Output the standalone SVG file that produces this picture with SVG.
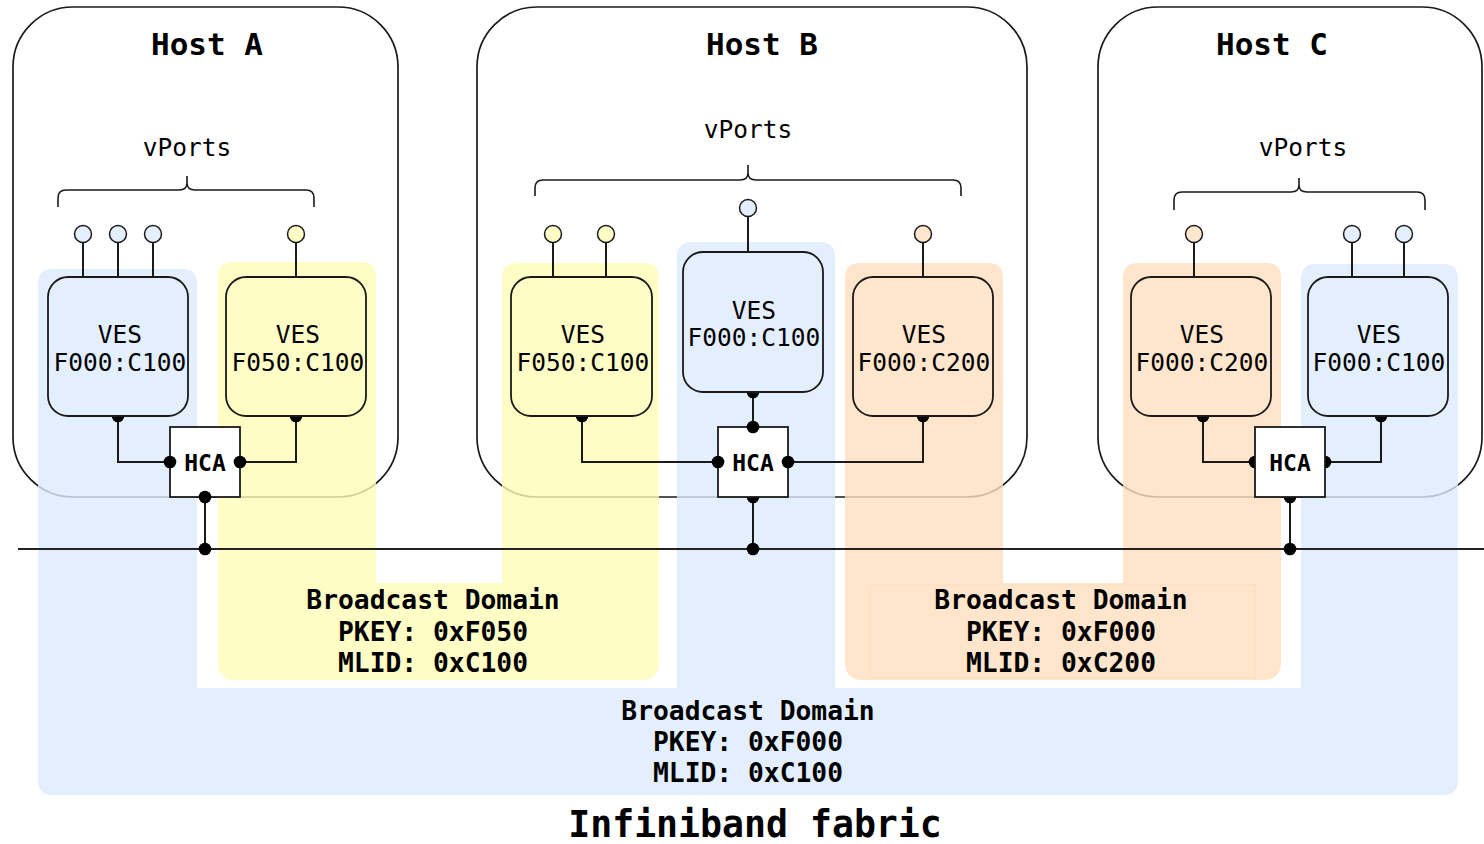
<svg xmlns="http://www.w3.org/2000/svg" width="1484" height="844" viewBox="0 0 1484 844">
<style>
text{font-family:"DejaVu Sans Mono","Liberation Mono",monospace;fill:#000;text-anchor:middle}
.title{font-size:31px;font-weight:bold}
.vp{font-size:24.5px}
.ves{font-size:24.5px}
.hcat{font-size:23px;font-weight:bold}
.dom{font-size:26.3px;font-weight:bold}
.fab{font-size:36.5px;font-weight:bold}
.host{fill:none;stroke:#1a1a1a;stroke-width:1.7}
.brace{fill:none;stroke:#1a1a1a;stroke-width:1.6}
.vesb{fill:#e3effd;stroke:#1a1a1a;stroke-width:1.8}
.vesy{fill:#fffdc6;stroke:#1a1a1a;stroke-width:1.8}
.veso{fill:#ffe6cc;stroke:#1a1a1a;stroke-width:1.8}
.hca{fill:#fff;stroke:#1a1a1a;stroke-width:1.8}
.wire{fill:none;stroke:#1a1a1a;stroke-width:2}
.dot{fill:#000}
.pb{fill:#e3effd;stroke:#1a1a1a;stroke-width:1.5}
.py{fill:#fffdc6;stroke:#1a1a1a;stroke-width:1.5}
.po{fill:#ffe6cc;stroke:#1a1a1a;stroke-width:1.5}
</style>

<!-- hosts (borders under the semi-transparent domains) -->
<g id="hostA-frame"><rect class="host" x="13" y="7" width="385" height="490" rx="60" ry="60"/></g>
<g id="hostB-frame"><rect class="host" x="477" y="7" width="550" height="490" rx="60" ry="60"/></g>
<g id="hostC-frame"><rect class="host" x="1098" y="7" width="384" height="490" rx="60" ry="60"/></g>

<!-- broadcast domains -->
<g id="domain-blue">
<path d="M38,284 Q38,269 53,269 H182 Q197,269 197,284 V688 H677 V257 Q677,242 692,242 H820 Q835,242 835,257 V688 H1301 V279 Q1301,264 1316,264 H1443 Q1458,264 1458,279 V780 Q1458,795 1443,795 H53 Q38,795 38,780 Z" fill="#dcebfd" fill-opacity="0.8"/>
<text class="dom" x="748" y="720">Broadcast Domain</text>
<text class="dom" x="748" y="751">PKEY: 0xF000</text>
<text class="dom" x="748" y="782">MLID: 0xC100</text>
</g>
<g id="domain-yellow">
<path d="M218,277 Q218,262 233,262 H361 Q376,262 376,277 V583 H502 V278 Q502,263 517,263 H644 Q659,263 659,278 V662 Q659,680 641,680 H236 Q218,680 218,662 Z" fill="#fffcb8" fill-opacity="0.8"/>
<text class="dom" x="433" y="609">Broadcast Domain</text>
<text class="dom" x="433" y="641">PKEY: 0xF050</text>
<text class="dom" x="433" y="672">MLID: 0xC100</text>
</g>
<g id="domain-orange">
<path d="M845,278 Q845,263 860,263 H988 Q1003,263 1003,278 V583 H1123 V278 Q1123,263 1138,263 H1266 Q1281,263 1281,278 V662 Q1281,680 1263,680 H863 Q845,680 845,662 Z" fill="#ffdfbf" fill-opacity="0.8"/>
<rect x="870" y="585" width="385" height="93" fill="none" stroke="#fbdcbd" stroke-width="1"/>
<text class="dom" x="1061" y="609">Broadcast Domain</text>
<text class="dom" x="1061" y="641">PKEY: 0xF000</text>
<text class="dom" x="1061" y="672">MLID: 0xC200</text>
</g>

<!-- host labels and vPorts braces -->
<g id="hostA-labels">
<text class="title" x="207" y="55">Host A</text>
<text class="vp" x="187" y="156">vPorts</text>
<path class="brace" d="M58,207 V198 Q58,190 66,190 H179 Q187,190 187,183 V176 M187,183 Q187,190 195,190 H306 Q314,190 314,198 V207"/>
</g>
<g id="hostB-labels">
<text class="title" x="762" y="55">Host B</text>
<text class="vp" x="748" y="138">vPorts</text>
<path class="brace" d="M535,196 V188 Q535,180 543,180 H740 Q748,180 748,173 V165 M748,173 Q748,180 756,180 H953 Q961,180 961,188 V196"/>
</g>
<g id="hostC-labels">
<text class="title" x="1272" y="55">Host C</text>
<text class="vp" x="1303" y="156">vPorts</text>
<path class="brace" d="M1174,210 V200 Q1174,192 1182,192 H1291 Q1299,192 1299,185 V178 M1299,185 Q1299,192 1307,192 H1417 Q1425,192 1425,200 V210"/>
</g>

<!-- connectors -->
<g id="connectors">
<line x1="18" y1="549" x2="1484" y2="549" stroke="#222" stroke-width="2"/>
<!-- Host A -->
<path class="wire" d="M83,234 V277 M118,234 V277 M153,234 V277 M296,234 V277"/>
<path class="wire" d="M118,416 V462 H170 M296,416 V462 H240 M205,497 V549"/>
<!-- Host B -->
<path class="wire" d="M553,234 V277 M606,234 V277 M748,208 V252 M923,234 V277"/>
<path class="wire" d="M582,416 V462 H718 M753,392 V427 M923,416 V462 H788 M753,497 V549"/>
<!-- Host C -->
<path class="wire" d="M1194,234 V277 M1352,234 V277 M1404,234 V277"/>
<path class="wire" d="M1203,416 V462 H1255 M1381,416 V462 H1325 M1290,497 V549"/>
<g class="dot">
<circle cx="205" cy="549" r="6.3"/><circle cx="753" cy="549" r="6.3"/><circle cx="1290" cy="549" r="6.3"/>
<circle cx="118" cy="416" r="6.3"/><circle cx="296" cy="416" r="6.3"/>
<circle cx="582" cy="416" r="6.3"/><circle cx="753" cy="392" r="6.3"/><circle cx="923" cy="416" r="6.3"/>
<circle cx="1203" cy="416" r="6.3"/><circle cx="1381" cy="416" r="6.3"/>
<circle cx="753" cy="497" r="6.3"/>
<circle cx="1255" cy="462" r="6.3"/><circle cx="1325" cy="462" r="6.3"/><circle cx="1290" cy="497" r="6.3"/>
</g>
</g>

<!-- vPorts -->
<g id="ports">
<circle class="pb" cx="83" cy="234" r="8.5"/><circle class="pb" cx="118" cy="234" r="8.5"/><circle class="pb" cx="153" cy="234" r="8.5"/>
<circle class="py" cx="296" cy="234" r="8.5"/>
<circle class="py" cx="553" cy="234" r="8.5"/><circle class="py" cx="606" cy="234" r="8.5"/>
<circle class="pb" cx="748" cy="208" r="8.5"/>
<circle class="po" cx="923" cy="234" r="8.5"/>
<circle class="po" cx="1194" cy="234" r="8.5"/>
<circle class="pb" cx="1352" cy="234" r="8.5"/><circle class="pb" cx="1404" cy="234" r="8.5"/>
</g>

<!-- VES nodes -->
<g id="vesA1"><rect class="vesb" x="48" y="277" width="140" height="139" rx="20"/>
<text class="ves" x="120" y="343">VES</text><text class="ves" x="120" y="371">F000:C100</text></g>
<g id="vesA2"><rect class="vesy" x="226" y="277" width="140" height="139" rx="20"/>
<text class="ves" x="298" y="343">VES</text><text class="ves" x="298" y="371">F050:C100</text></g>
<g id="vesB1"><rect class="vesy" x="511" y="277" width="141" height="139" rx="20"/>
<text class="ves" x="583" y="343">VES</text><text class="ves" x="583" y="371">F050:C100</text></g>
<g id="vesB2"><rect class="vesb" x="683" y="252" width="140" height="140" rx="20"/>
<text class="ves" x="754" y="319">VES</text><text class="ves" x="754" y="346">F000:C100</text></g>
<g id="vesB3"><rect class="veso" x="853" y="277" width="140" height="139" rx="20"/>
<text class="ves" x="924" y="343">VES</text><text class="ves" x="924" y="371">F000:C200</text></g>
<g id="vesC1"><rect class="veso" x="1131" y="277" width="140" height="139" rx="20"/>
<text class="ves" x="1202" y="343">VES</text><text class="ves" x="1202" y="371">F000:C200</text></g>
<g id="vesC2"><rect class="vesb" x="1308" y="277" width="140" height="139" rx="20"/>
<text class="ves" x="1379" y="343">VES</text><text class="ves" x="1379" y="371">F000:C100</text></g>

<!-- HCAs -->
<g id="hcaA"><rect class="hca" x="170" y="427" width="70" height="70"/><text class="hcat" x="205" y="471">HCA</text>
<g class="dot"><circle cx="170" cy="462" r="6.3"/><circle cx="240" cy="462" r="6.3"/><circle cx="205" cy="497" r="6.3"/></g></g>
<g id="hcaB"><rect class="hca" x="718" y="427" width="70" height="70"/><text class="hcat" x="753" y="471">HCA</text>
<g class="dot"><circle cx="718" cy="462" r="6.3"/><circle cx="788" cy="462" r="6.3"/><circle cx="753" cy="427" r="6.3"/></g></g>
<g id="hcaC"><rect class="hca" x="1255" y="427" width="70" height="70"/><text class="hcat" x="1290" y="471">HCA</text></g>

<g id="fabric-label"><text class="fab" x="755" y="837">Infiniband fabric</text></g>
</svg>
